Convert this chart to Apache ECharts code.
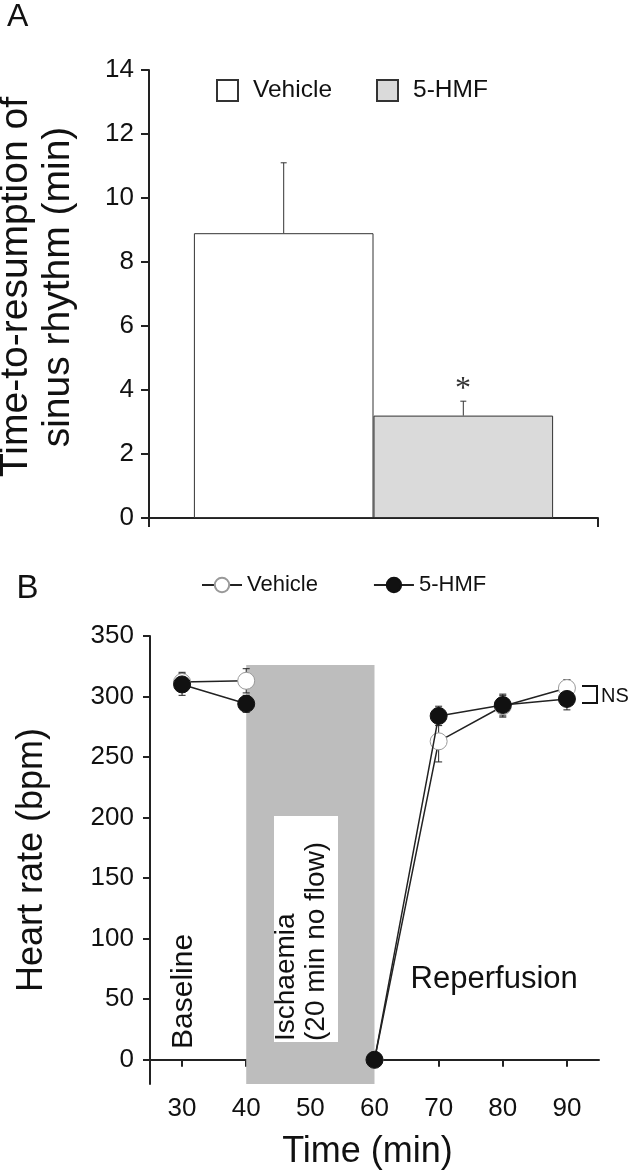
<!DOCTYPE html>
<html>
<head>
<meta charset="utf-8">
<script src="https://cdn.jsdelivr.net/npm/echarts@6/dist/echarts.min.js"></script>
<style>
html,body{margin:0;padding:0;background:#fff;}
#wrap{position:relative;width:630px;height:1175px;}
#a{position:absolute;left:0;top:0;width:630px;height:560px;}
#b{position:absolute;left:0;top:560px;width:630px;height:615px;}
</style>
</head>
<body>
<div id="wrap"><div id="a"></div><div id="b"></div></div>
<script>
// ---------- Panel A data ----------
const barCategories = [''];
const barSeriesNames = ['Vehicle', '5-HMF'];
const barMeans = [8.9, 3.2];
const barErrors = [2.2, 0.45];
const yTicksA = [0, 2, 4, 6, 8, 10, 12, 14];

// ---------- Panel B data ----------
const timePoints = [30, 40, 50, 60, 70, 80, 90];
const vehicleHR = [312, 313, null, 0, 263, 292, 307];
const vehicleSEM = [8, 10, null, 0, 17, 9, 7];
const hmfHR = [310, 294, null, 0, 284, 293, 298];
const hmfSEM = [9, 7, null, 0, 8, 9, 9];
const xTicksB = [30, 40, 50, 60, 70, 80, 90];
const yTicksB = [0, 50, 100, 150, 200, 250, 300, 350];
const ischaemiaStart = 40;
const ischaemiaEnd = 60;
const ischaemiaTop = 326;

const FONT = "'Liberation Sans', Arial, Helvetica, sans-serif";
const INK = '#111';

// ================= Panel A =================
const chartA = echarts.init(document.getElementById('a'));
chartA.setOption({
  animation: false,
  textStyle: { fontFamily: FONT },
  title: { text: 'A', left: 7, top: 1, padding: 0,
    textStyle: { fontSize: 32, fontWeight: 'normal', color: INK, fontFamily: FONT } },
  legend: {
    left: 211, top: 73, itemWidth: 21, itemHeight: 21, itemGap: 44, icon: 'rect',
    selectedMode: false, data: barSeriesNames,
    textStyle: { fontSize: 24.5, color: INK, fontFamily: FONT, padding: [0, 0, 0, 10] }
  },
  grid: { left: 149, right: 32, top: 70, height: 448, outerBoundsMode: 'none', containLabel: false },
  xAxis: {
    type: 'category', data: barCategories,
    axisLine: { lineStyle: { color: '#222', width: 2 } },
    axisTick: { show: true, length: 9, lineStyle: { color: '#222', width: 2 } },
    axisLabel: { show: false }, splitLine: { show: false }
  },
  yAxis: {
    type: 'value', min: yTicksA[0], max: yTicksA[yTicksA.length - 1], interval: 2,
    name: 'Time-to-resumption of\nsinus rhythm (min)', nameLocation: 'middle', nameGap: 70,
    nameTextStyle: { fontSize: 39, lineHeight: 42, color: INK, fontFamily: FONT, padding: [0, 0, 0, 14] },
    axisLine: { show: true, lineStyle: { color: '#222', width: 2 } },
    axisTick: { show: true, length: 8, lineStyle: { color: '#222', width: 2 } },
    axisLabel: { fontSize: 26, margin: 15, color: INK, fontFamily: FONT },
    splitLine: { show: false }
  },
  series: [
    { name: barSeriesNames[0], type: 'bar', barWidth: '40%', barGap: '0%', z: 2,
      data: [barMeans[0]], itemStyle: { color: '#ffffff', borderColor: '#333', borderWidth: 1 } },
    { name: barSeriesNames[1], type: 'bar', barWidth: '40%', barGap: '0%', z: 2,
      data: [barMeans[1]], itemStyle: { color: '#dadada', borderColor: '#333', borderWidth: 1 } },
    { name: 'errA', type: 'custom', z: 1,
      encode: { x: 0, y: 1 },
      data: barMeans.map((m, i) => [0, m, barErrors[i], i]),
      renderItem: function (params, api) {
        const idx = api.value(3);
        const band = api.size([1, 0])[0];
        const c = api.coord([api.value(0), api.value(1)]);
        const t = api.coord([api.value(0), api.value(1) + api.value(2)]);
        const x = c[0] + (idx === 0 ? -1 : 1) * band * 0.2;
        const st = { stroke: '#333', lineWidth: 1 };
        return { type: 'group', children: [
          { type: 'line', shape: { x1: x, y1: c[1], x2: x, y2: t[1] }, style: st },
          { type: 'line', shape: { x1: x - 3, y1: t[1], x2: x + 3, y2: t[1] }, style: st }
        ] };
      }
    }
  ],
  graphic: [
    { type: 'text', x: 463, y: 390, z: 10,
      style: { text: '*', fontSize: 32, fontFamily: "'Liberation Serif', 'Times New Roman', serif",
        fill: '#333', align: 'center', verticalAlign: 'middle' } }
  ]
});

// ================= Panel B =================
const chartB = echarts.init(document.getElementById('b'));
const pairs = (vals) => timePoints.map((t, i) => [t, vals[i] === null ? '-' : vals[i]]);
const errData = (vals, errs) => timePoints
  .map((t, i) => [t, vals[i], errs[i]])
  .filter(d => d[1] !== null && d[2]);

function errRender(params, api) {
  const x = api.value(0), y = api.value(1), e = api.value(2);
  const top = api.coord([x, y + e]);
  const bot = api.coord([x, y - e]);
  const st = { stroke: '#222', lineWidth: 1 };
  return { type: 'group', children: [
    { type: 'line', shape: { x1: top[0], y1: top[1], x2: bot[0], y2: bot[1] }, style: st },
    { type: 'line', shape: { x1: top[0] - 3.5, y1: top[1], x2: top[0] + 3.5, y2: top[1] }, style: st },
    { type: 'line', shape: { x1: bot[0] - 3.5, y1: bot[1], x2: bot[0] + 3.5, y2: bot[1] }, style: st }
  ] };
}

chartB.setOption({
  animation: false,
  textStyle: { fontFamily: FONT },
  title: { text: 'B', left: 16.5, top: 12.5, padding: 0,
    textStyle: { fontSize: 33, fontWeight: 'normal', color: INK, fontFamily: FONT } },
  legend: {
    left: 196, top: 9, itemWidth: 40, itemHeight: 18, itemGap: 55,
    selectedMode: false, data: ['Vehicle', '5-HMF'],
    textStyle: { fontSize: 22, color: INK, fontFamily: FONT }
  },
  grid: { left: 150, right: 31, top: 76, height: 448, outerBoundsMode: 'none', containLabel: false },
  xAxis: {
    type: 'value', min: 25, max: 95,
    name: 'Time (min)', nameLocation: 'middle', nameGap: 50,
    nameTextStyle: { fontSize: 36, color: INK, fontFamily: FONT, padding: [0, 14, 0, 0] },
    axisLine: { show: true, lineStyle: { color: '#222', width: 2 } },
    axisTick: { show: true, length: 7, customValues: xTicksB, lineStyle: { color: '#222', width: 2 } },
    axisLabel: { fontSize: 26, margin: 12, color: INK, customValues: xTicksB, fontFamily: FONT },
    splitLine: { show: false }
  },
  yAxis: {
    type: 'value', min: -20, max: 350,
    name: 'Heart rate (bpm)', nameLocation: 'middle', nameGap: 100,
    nameTextStyle: { fontSize: 36, color: INK, fontFamily: FONT },
    axisLine: { show: true, lineStyle: { color: '#222', width: 2 } },
    axisTick: { show: true, length: 7, customValues: yTicksB, lineStyle: { color: '#222', width: 2 } },
    axisLabel: { fontSize: 26, margin: 16, color: INK, customValues: yTicksB, fontFamily: FONT },
    splitLine: { show: false }
  },
  series: [
    { name: 'shade', type: 'line', data: [], z: 1,
      markArea: { silent: true, itemStyle: { color: '#bdbdbd' },
        data: [[{ xAxis: ischaemiaStart, yAxis: -20 }, { xAxis: ischaemiaEnd, yAxis: ischaemiaTop }]] } },
    { name: 'errVehicle', type: 'custom', z: 3, encode: { x: 0, y: 1 },
      data: errData(vehicleHR, vehicleSEM), renderItem: errRender },
    { name: 'errHMF', type: 'custom', z: 3, encode: { x: 0, y: 1 },
      data: errData(hmfHR, hmfSEM), renderItem: errRender },
    { name: 'Vehicle', type: 'line', z: 4, data: pairs(vehicleHR), connectNulls: false,
      symbol: 'circle', symbolSize: 17, showSymbol: true,
      lineStyle: { color: '#222', width: 1.5 },
      itemStyle: { color: '#ffffff', borderColor: '#999', borderWidth: 1 } },
    { name: '5-HMF', type: 'line', z: 5, data: pairs(hmfHR), connectNulls: false,
      symbol: 'circle', symbolSize: 17, showSymbol: true,
      lineStyle: { color: '#222', width: 1.5 },
      itemStyle: { color: '#111111', borderColor: '#111', borderWidth: 1 } }
  ],
  graphic: [
    { type: 'rect', z: 10, shape: { x: 274, y: 256, width: 64, height: 226 }, style: { fill: '#ffffff' } },
    { type: 'text', z: 11, x: 301.7, y: 481, rotation: Math.PI / 2,
      style: { text: 'Ischaemia\n(20 min no flow)', fontSize: 28, lineHeight: 30, fontFamily: FONT,
        fill: INK, align: 'left', verticalAlign: 'middle' } },
    { type: 'text', z: 11, x: 183.5, y: 489, rotation: Math.PI / 2,
      style: { text: 'Baseline', fontSize: 30, fontFamily: FONT, fill: INK, align: 'left', verticalAlign: 'middle' } },
    { type: 'text', z: 11, x: 410.6, y: 419.5,
      style: { text: 'Reperfusion', fontSize: 31, fontFamily: FONT, fill: INK, align: 'left', verticalAlign: 'middle' } },
    { type: 'polyline', z: 11, shape: { points: [[582, 126], [597, 126], [597, 143], [582, 143]] },
      style: { stroke: INK, lineWidth: 2, fill: null } },
    { type: 'text', z: 11, x: 601, y: 136,
      style: { text: 'NS', fontSize: 20, fontFamily: FONT, fill: INK, align: 'left', verticalAlign: 'middle' } }
  ]
});
</script>
</body>
</html>
